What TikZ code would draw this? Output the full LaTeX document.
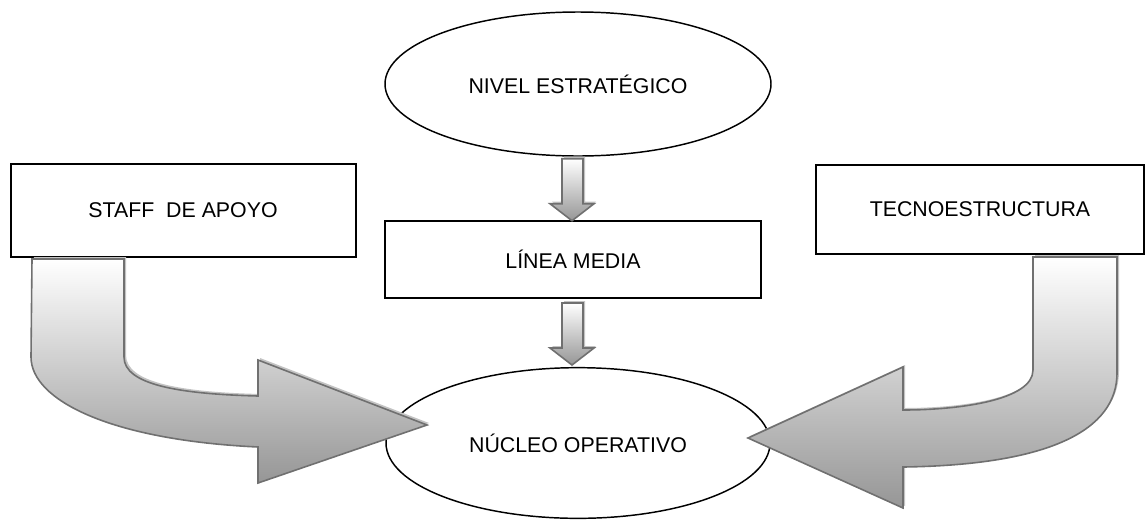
\documentclass[tikz,border=0pt]{standalone}
\usepackage{fontspec}
\setmainfont{Liberation Sans}
\usetikzlibrary{shapes.geometric,shadows,calc}

\definecolor{arrowline}{RGB}{112,112,112}
\definecolor{arrowdark}{RGB}{150,150,150}
\definecolor{arrowshadow}{RGB}{195,195,195}

\tikzset{every picture/.style={line width=0.75pt}}
\tikzset{
  boxnode/.style={draw, line width=1.5pt, inner sep=0pt, font=\fontsize{16}{19}\selectfont},
  ovalnode/.style={draw, ellipse, line width=1.1pt, inner sep=0pt, font=\fontsize{16}{19}\selectfont},
  blockarrow/.style={draw=arrowline, line width=1.2pt, line join=miter, top color=white, bottom color=arrowdark,
    drop shadow={shadow xshift=1.5pt, shadow yshift=1.5pt, fill=arrowshadow, opacity=1}},
}

\begin{document}
\begin{tikzpicture}[x=0.75pt,y=0.75pt,yscale=-1,xscale=1]
    \useasboundingbox (0,0) rectangle (1145,529);

    %Shape: Ellipse
    \node[ovalnode, minimum width=289.5pt, minimum height=108pt] (nivel) at (578,84) {NIVEL ESTRATÉGICO};
    %Shape: Rectangle
    \node[boxnode, minimum width=258.75pt, minimum height=69.75pt] (staff) at (183,210.5) {STAFF\ \ DE APOYO};
    %Shape: Rectangle
    \node[boxnode, minimum width=246pt, minimum height=66.75pt] (tecno) at (980,209.5) {TECNOESTRUCTURA};
    %Shape: Rectangle
    \node[boxnode, minimum width=282pt, minimum height=57.75pt] (linea) at (573,259.5) {LÍNEA MEDIA};
    %Shape: Ellipse
    \node[ovalnode, minimum width=288pt, minimum height=113pt] (nucleo) at (578,443) {NÚCLEO OPERATIVO};

    %Down Arrow
    \draw[blockarrow] ($(nivel.south)+(-16,2)$) -- ++(21,0) -- ++(0,45) -- ++(11,0) -- ++(-22,17) -- ++(-22,-17) -- ++(12,0) -- cycle;
    %Down Arrow
    \draw[blockarrow] ($(linea.south)+(-11,4)$) -- ++(21,0) -- ++(0,45) -- ++(11,0) -- ++(-22,17) -- ++(-22,-17) -- ++(12,0) -- cycle;

    %Bent Arrow (left)
    \draw[blockarrow] (32,259) -- (31,357) .. controls (31,400) and (110,440) .. (258,447) -- (258,483) -- (427,425) -- (258,360) -- (258,396) .. controls (180,394) and (124,385) .. (124,357) -- (124,259) -- cycle;
    %Bent Arrow (right)
    \draw[blockarrow] (1033,257) -- (1033,370) .. controls (1033,400) and (960,410) .. (903,410) -- (903,367) -- (748,438) -- (903,508) -- (903,467) .. controls (1050,465) and (1117,430) .. (1117,373) -- (1117,257) -- cycle;

\end{tikzpicture}
\end{document}
